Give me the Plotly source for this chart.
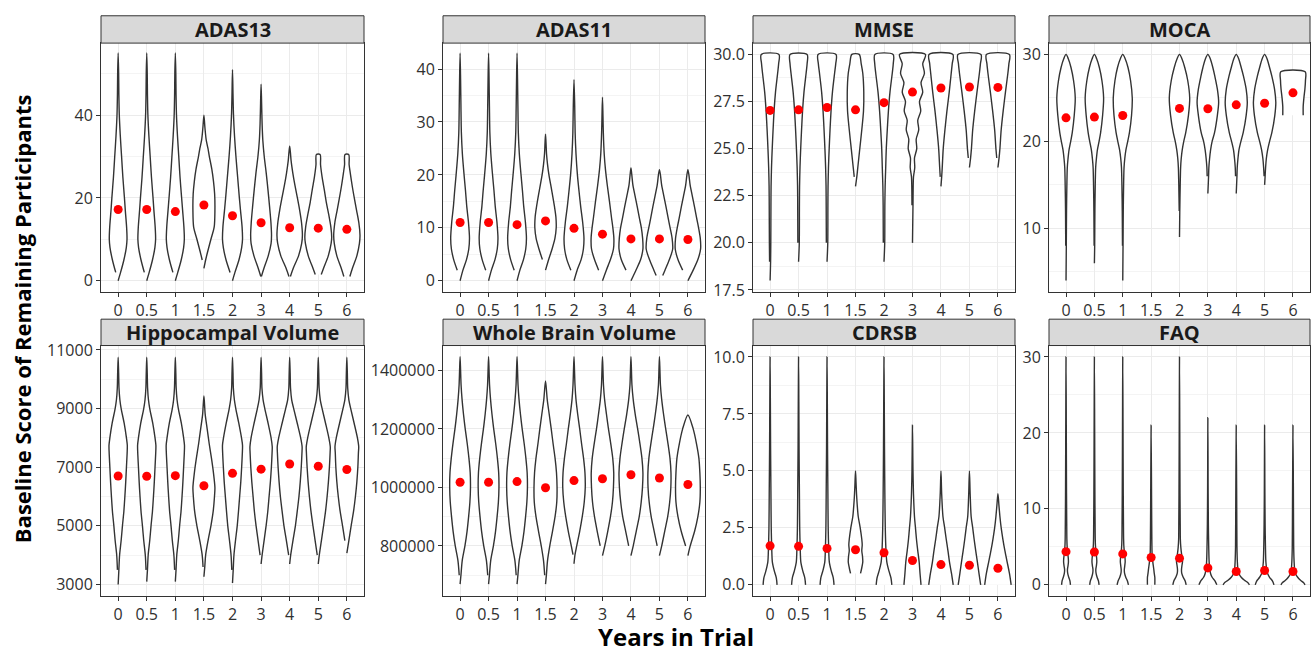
import plotly.graph_objects as go

# Trial years (x categories shared by every panel)
YEARS = ["0", "0.5", "1", "1.5", "2", "3", "4", "5", "6"]

# Each violin: score levels (bottom -> top) and the full violin width at
# each level, expressed as a fraction of one category slot.
ADAS13_MEAN = [17.2, 17.2, 16.7, 18.3, 15.7, 14.0, 12.8, 12.7, 12.4]
ADAS13_LEVELS = [
    [0, 2, 5, 8, 10, 13, 17, 20, 25, 30, 35, 40, 45, 50, 55],
    [0, 2, 5, 8, 10, 13, 17, 20, 25, 30, 35, 40, 45, 50, 55],
    [0, 2, 5, 8, 10, 13, 17, 20, 25, 30, 35, 40, 45, 50, 55],
    [3, 5, 7, 10, 13, 17, 21, 24, 27, 30, 32, 34, 37, 40],
    [0, 2, 5, 8, 10, 13, 17, 20, 25, 30, 35, 40, 45, 51],
    [1, 3, 6, 9, 11, 14, 18, 22, 26, 30, 34, 38, 43, 47.5],
    [1, 3, 6, 9, 11, 14, 17, 20, 23, 26, 29, 31, 32.5],
    [1.5, 3, 6, 9, 10.5, 13, 16, 19, 22, 25, 28, 30.5],
    [1, 3, 6, 9, 11, 14, 17, 20, 23, 26, 28, 30.5],
]
ADAS13_WIDTHS = [
    [0, .17, .40, .57, .62, .59, .50, .44, .33, .24, .15, .08, .05, .035, 0],
    [0, .17, .40, .57, .62, .59, .50, .44, .33, .24, .15, .08, .05, .035, 0],
    [0, .17, .41, .58, .63, .60, .51, .44, .33, .24, .15, .08, .05, .035, 0],
    [0, .12, .26, .49, .72, .77, .75, .67, .55, .38, .28, .16, .07, 0],
    [0, .17, .45, .64, .70, .67, .56, .48, .36, .24, .14, .07, .035, 0],
    [.02, .20, .50, .70, .73, .69, .59, .48, .36, .22, .12, .07, .035, 0],
    [.05, .25, .62, .84, .89, .83, .70, .54, .37, .22, .10, .05, 0],
    [.21, .37, .70, .90, .94, .88, .73, .56, .42, .27, .16, .13],
    [.21, .39, .70, .88, .92, .84, .68, .52, .37, .24, .16, .13],
]

ADAS11_MEAN = [11.0, 11.0, 10.6, 11.3, 9.9, 8.8, 7.9, 7.9, 7.8]
ADAS11_LEVELS = [
    [0, 2, 4, 6, 8, 11, 14, 17, 20, 24, 28, 33, 38, 43],
    [0, 2, 4, 6, 8, 11, 14, 17, 20, 24, 28, 33, 38, 43],
    [0, 2, 4, 6, 8, 11, 14, 17, 20, 24, 28, 33, 38, 43],
    [2, 4, 6, 8, 10, 12, 14, 17, 20, 22, 24, 26, 27.7],
    [0, 2, 4, 6, 8, 11, 14, 17, 20, 24, 28, 33, 38],
    [0, 2, 4, 6, 8, 10, 12, 15, 18, 21, 24, 28, 31, 34.7],
    [0, 2, 4, 6, 8, 10, 12, 14, 16, 18, 20, 21.3],
    [1, 2, 4, 6, 8, 10, 12, 14, 16, 18, 20, 21],
    [0, 2, 4, 6, 8, 10, 12, 14, 16, 18, 20, 21],
]
ADAS11_WIDTHS = [
    [0, .20, .45, .61, .66, .59, .47, .38, .28, .16, .09, .06, .035, 0],
    [0, .20, .45, .61, .66, .59, .47, .38, .28, .16, .09, .06, .035, 0],
    [0, .20, .45, .61, .66, .59, .47, .38, .28, .16, .09, .06, .035, 0],
    [0, .22, .46, .66, .75, .73, .63, .44, .24, .14, .07, .035, 0],
    [0, .22, .50, .66, .70, .61, .47, .35, .24, .14, .08, .05, 0],
    [0, .27, .56, .77, .80, .73, .63, .49, .34, .21, .12, .06, .035, 0],
    [0, .35, .68, .84, .82, .73, .58, .44, .29, .14, .06, 0],
    [.23, .39, .70, .93, .89, .75, .60, .46, .31, .16, .07, 0],
    [0, .37, .70, .89, .87, .75, .60, .46, .31, .16, .07, 0],
]

MMSE_MEAN = [27.03, 27.06, 27.18, 27.06, 27.44, 28.0, 28.22, 28.27, 28.25]
MMSE_LEVELS = [
    [18, 19, 20, 22, 23, 24, 25, 26, 27, 28, 29, 29.5, 30],
    [19, 20, 22, 23, 24, 25, 26, 27, 28, 29, 29.5, 30],
    [19, 20, 22, 23, 24, 25, 26, 27, 28, 29, 29.5, 30],
    [23, 23.5, 24, 25, 26, 27, 28, 29, 29.5, 30],
    [19, 20, 22, 23, 24, 25, 26, 27, 28, 29, 29.5, 30],
    [20, 22, 23, 23.5, 24, 24.5, 25, 25.5, 26, 26.5, 27, 27.5, 28, 28.5, 29, 29.5, 30],
    [23, 23.5, 24, 25, 26, 27, 28, 29, 29.5, 30],
    [24, 24.5, 25, 26, 27, 28, 29, 29.5, 30],
    [24, 24.5, 25, 26, 27, 28, 29, 29.5, 30],
]
MMSE_WIDTHS = [
    [0, .035, .05, .06, .07, .10, .15, .21, .28, .38, .53, .60, .62],
    [0, .05, .06, .07, .10, .15, .21, .28, .38, .53, .60, .60],
    [0, .05, .06, .07, .10, .15, .21, .28, .38, .53, .61, .63],
    [0, .09, .16, .30, .44, .56, .58, .51, .40, .26],
    [0, .05, .06, .08, .12, .16, .23, .31, .42, .58, .65, .64],
    [0, .035, .05, .07, .16, .14, .30, .26, .44, .37, .58, .49, .72, .60, .84, .72, .91],
    [0, .05, .09, .16, .28, .42, .58, .72, .79, .84],
    [0, .08, .14, .23, .37, .53, .70, .77, .81],
    [0, .08, .14, .23, .37, .53, .70, .77, .81],
]

MOCA_MEAN = [22.71, 22.79, 22.97, None, 23.79, 23.75, 24.2, 24.39, 25.58]
MOCA_LEVELS = [
    [4, 8, 12, 15, 17, 18, 19, 20, 21, 23, 25, 27, 28.5, 29.5, 30],
    [6, 8, 12, 15, 17, 18, 19, 20, 21, 23, 25, 27, 28.5, 29.5, 30],
    [4, 8, 12, 15, 17, 18, 19, 20, 21, 23, 25, 27, 28.5, 29.5, 30],
    [],
    [9, 12, 15, 17, 18, 19, 20, 21, 23, 25, 27, 28.5, 29.5, 30],
    [14, 16, 17, 18, 19, 20, 21, 23, 24.5, 26, 27.5, 28.5, 29.5, 30],
    [14, 16, 17, 18, 19, 20, 21, 23, 24.5, 26, 27.5, 28.5, 29.5, 30],
    [15, 16, 17, 18, 19, 20, 21, 23, 24.5, 26, 27.5, 28.5, 29.5, 30],
    [23, 24, 25, 26, 27, 28],
]
MOCA_WIDTHS = [
    [0, .02, .035, .06, .09, .14, .21, .33, .44, .58, .65, .53, .35, .16, 0],
    [0, .02, .035, .06, .09, .14, .21, .33, .44, .58, .65, .53, .35, .16, 0],
    [0, .02, .035, .06, .09, .14, .22, .35, .47, .62, .67, .55, .37, .17, 0],
    [],
    [0, .02, .05, .08, .12, .19, .30, .44, .63, .72, .58, .37, .17, 0],
    [0, .05, .07, .12, .19, .30, .47, .67, .76, .67, .49, .35, .17, 0],
    [0, .05, .07, .12, .19, .33, .49, .70, .78, .70, .51, .35, .17, 0],
    [0, .035, .07, .12, .21, .35, .51, .72, .79, .70, .51, .35, .17, 0],
    [.72, .72, .77, .84, .88, .86],
]

HIPPO_MEAN = [6702, 6691, 6713, 6370, 6790, 6934, 7110, 7033, 6923]
HIPPO_LEVELS = [
    [3000, 3500, 4000, 4500, 5000, 5500, 6000, 6500, 7000, 7500, 7750, 8000, 8500, 9000, 9300, 9700, 10200, 10750],
    [3100, 3500, 4000, 4500, 5000, 5500, 6000, 6500, 7000, 7500, 7750, 8000, 8500, 9000, 9300, 9700, 10200, 10750],
    [3100, 3500, 4000, 4500, 5000, 5500, 6000, 6500, 7000, 7500, 7750, 8000, 8500, 9000, 9300, 9700, 10200, 10750],
    [3265, 3600, 4000, 4500, 5000, 5500, 6000, 6300, 6800, 7300, 7800, 8300, 8800, 9430],
    [3050, 3500, 4000, 4500, 5000, 5500, 6000, 6500, 7000, 7500, 7750, 8000, 8500, 9000, 9300, 9700, 10200, 10750],
    [3700, 4000, 4500, 5000, 5500, 6000, 6500, 7000, 7500, 7700, 8000, 8500, 9000, 9300, 9700, 10200, 10750],
    [3700, 4000, 4500, 5000, 5500, 6000, 6500, 7000, 7500, 7700, 8000, 8500, 9000, 9300, 9700, 10200, 10750],
    [3700, 4000, 4500, 5000, 5500, 6000, 6500, 7000, 7500, 7700, 8000, 8500, 9000, 9300, 9700, 10200, 10750],
    [4070, 4500, 5000, 5500, 6000, 6500, 7000, 7500, 7700, 8000, 8500, 9000, 9300, 9700, 10200, 10750],
]
HIPPO_WIDTHS = [
    [0, .05, .10, .21, .30, .40, .47, .53, .58, .63, .64, .58, .42, .21, .12, .06, .035, 0],
    [0, .05, .10, .21, .30, .40, .47, .53, .58, .63, .64, .58, .42, .21, .12, .06, .035, 0],
    [0, .05, .10, .21, .30, .40, .47, .53, .58, .63, .64, .58, .42, .21, .12, .06, .035, 0],
    [0, .06, .12, .29, .49, .65, .74, .77, .67, .53, .37, .23, .09, 0],
    [0, .05, .10, .21, .33, .42, .50, .58, .64, .69, .70, .63, .44, .23, .13, .06, .035, 0],
    [0, .07, .21, .35, .47, .56, .65, .72, .77, .78, .70, .49, .26, .14, .06, .035, 0],
    [0, .07, .23, .40, .53, .65, .74, .81, .86, .87, .77, .53, .28, .14, .06, .035, 0],
    [0, .07, .22, .37, .51, .62, .71, .78, .83, .84, .74, .51, .27, .14, .06, .035, 0],
    [0, .14, .30, .47, .60, .70, .77, .81, .83, .74, .51, .27, .14, .06, .035, 0],
]

BRAIN_MEAN = [1017700, 1017700, 1019900, 998900, 1023200, 1029800, 1043100, 1032000, 1009900]
BRAIN_LEVELS = [
    [669600, 700000, 750000, 800000, 850000, 900000, 950000, 1000000, 1050000, 1100000, 1150000, 1200000, 1250000, 1300000, 1350000, 1400000, 1446400],
    [669600, 700000, 750000, 800000, 850000, 900000, 950000, 1000000, 1050000, 1100000, 1150000, 1200000, 1250000, 1300000, 1350000, 1400000, 1446400],
    [669600, 700000, 750000, 800000, 850000, 900000, 950000, 1000000, 1050000, 1100000, 1150000, 1200000, 1250000, 1300000, 1350000, 1400000, 1446400],
    [669600, 700000, 750000, 800000, 850000, 900000, 950000, 1000000, 1050000, 1100000, 1150000, 1200000, 1250000, 1300000, 1363500],
    [739200, 770000, 800000, 850000, 900000, 950000, 1000000, 1050000, 1100000, 1150000, 1200000, 1250000, 1300000, 1350000, 1400000, 1446400],
    [766900, 800000, 850000, 900000, 950000, 1000000, 1050000, 1100000, 1150000, 1200000, 1250000, 1300000, 1350000, 1400000, 1446400],
    [766900, 800000, 850000, 900000, 950000, 1000000, 1050000, 1100000, 1150000, 1200000, 1250000, 1300000, 1350000, 1400000, 1446400],
    [766900, 800000, 850000, 900000, 950000, 1000000, 1050000, 1100000, 1150000, 1200000, 1250000, 1300000, 1350000, 1400000, 1446400],
    [766900, 800000, 850000, 900000, 950000, 1000000, 1050000, 1100000, 1150000, 1200000, 1247500],
]
BRAIN_WIDTHS = [
    [0, .06, .15, .34, .49, .60, .69, .73, .71, .62, .50, .36, .24, .14, .07, .035, 0],
    [0, .06, .15, .34, .49, .60, .69, .73, .71, .62, .50, .36, .24, .14, .07, .035, 0],
    [0, .06, .15, .34, .49, .60, .69, .73, .71, .62, .50, .36, .24, .14, .07, .035, 0],
    [0, .06, .14, .30, .49, .67, .79, .81, .77, .67, .53, .40, .26, .12, 0],
    [0, .07, .19, .40, .58, .72, .79, .77, .67, .53, .40, .26, .14, .07, .035, 0],
    [0, .16, .37, .56, .70, .77, .79, .72, .58, .42, .28, .15, .07, .035, 0],
    [0, .16, .37, .58, .72, .81, .84, .77, .63, .47, .30, .16, .07, .035, 0],
    [0, .16, .37, .58, .72, .80, .81, .74, .60, .44, .29, .16, .07, .035, 0],
    [0, .16, .47, .70, .84, .87, .84, .77, .60, .37, 0],
]

CDRSB_MEAN = [1.71, 1.69, 1.60, 1.54, 1.41, 1.07, 0.89, 0.86, 0.73]
CDRSB_LEVELS = [
    [0, 0.3, 0.6, 1, 1.5, 2.5, 4, 6, 8, 10],
    [0, 0.3, 0.6, 1, 1.5, 2.5, 4, 6, 8, 10],
    [0, 0.3, 0.6, 1, 1.5, 2.5, 4, 6, 8, 10],
    [0.5, 0.75, 1, 1.25, 1.5, 1.75, 2, 2.5, 3, 3.5, 4, 4.5, 5],
    [0, 0.3, 0.6, 1, 1.5, 2.5, 4, 6, 8, 10],
    [0, 0.5, 1, 1.5, 2, 2.5, 3, 4, 5, 7],
    [0, 0.5, 1, 1.5, 2, 2.5, 3, 4, 5],
    [0, 0.5, 1, 1.5, 2, 2.5, 3, 4, 5],
    [0, 0.5, 1, 1.5, 2, 2.5, 3, 3.5, 4],
]
CDRSB_WIDTHS = [
    [.49, .44, .30, .16, .12, .08, .06, .035, .02, 0],
    [.49, .44, .30, .16, .12, .08, .06, .035, .02, 0],
    [.49, .44, .30, .16, .12, .08, .06, .035, .02, 0],
    [.35, .44, .51, .49, .44, .47, .44, .33, .19, .12, .07, .035, 0],
    [.55, .49, .35, .20, .14, .09, .06, .035, .02, 0],
    [.60, .53, .47, .37, .28, .21, .14, .07, .035, 0],
    [.86, .74, .60, .49, .37, .26, .14, .05, 0],
    [.79, .67, .56, .44, .33, .23, .12, .05, 0],
    [.93, .81, .65, .49, .35, .23, .14, .07, 0],
]

FAQ_MEAN = [4.37, 4.33, 4.07, 3.60, 3.51, 2.23, 1.76, 1.89, 1.76]
FAQ_LEVELS = [
    [0, 0.5, 1, 1.5, 2, 2.5, 3, 3.5, 4, 5, 6, 8, 12, 20, 30],
    [0, 0.5, 1, 1.5, 2, 2.5, 3, 3.5, 4, 5, 6, 8, 12, 20, 30],
    [0, 0.5, 1, 1.5, 2, 2.5, 3, 3.5, 4, 5, 6, 8, 12, 20, 30],
    [0, 1, 1.5, 2, 3, 4, 6, 10, 21],
    [0, 0.5, 1, 1.5, 2, 2.5, 3, 3.5, 4, 5, 6, 8, 12, 20, 30],
    [0, 0.5, 1, 1.5, 2, 3, 5, 8, 12, 22],
    [0, 0.3, 0.6, 1, 1.5, 2, 3, 5, 10, 21],
    [0, 0.5, 1, 1.5, 2, 3, 5, 8, 12, 21],
    [0, 0.3, 0.6, 1, 1.5, 2, 3, 5, 10, 21],
]
FAQ_WIDTHS = [
    [.31, .28, .19, .12, .10, .14, .17, .16, .13, .08, .06, .05, .035, .02, 0],
    [.33, .29, .19, .12, .10, .14, .17, .16, .13, .08, .06, .05, .035, .02, 0],
    [.40, .33, .21, .13, .11, .14, .17, .16, .13, .08, .06, .05, .035, .02, 0],
    [.26, .26, .22, .19, .12, .07, .05, .035, 0],
    [.47, .40, .26, .16, .14, .17, .21, .20, .15, .09, .06, .05, .035, .02, 0],
    [.63, .51, .30, .19, .14, .09, .06, .035, .02, 0],
    [.93, .81, .58, .35, .19, .12, .08, .05, .035, 0],
    [.66, .56, .35, .21, .15, .09, .06, .035, .02, 0],
    [.85, .74, .53, .33, .17, .12, .08, .05, .035, 0],
]

PANELS = [
    dict(title="ADAS13", mean=ADAS13_MEAN, levels=ADAS13_LEVELS, widths=ADAS13_WIDTHS,
         yrange=[-2.7, 57.4], tick0=0, dtick=20, fmt=None),
    dict(title="ADAS11", mean=ADAS11_MEAN, levels=ADAS11_LEVELS, widths=ADAS11_WIDTHS,
         yrange=[-2.1, 44.9], tick0=0, dtick=10, fmt=None),
    dict(title="MMSE", mean=MMSE_MEAN, levels=MMSE_LEVELS, widths=MMSE_WIDTHS,
         yrange=[17.4, 30.6], tick0=17.5, dtick=2.5, fmt=".1f"),
    dict(title="MOCA", mean=MOCA_MEAN, levels=MOCA_LEVELS, widths=MOCA_WIDTHS,
         yrange=[2.7, 31.3], tick0=0, dtick=10, fmt=None),
    dict(title="Hippocampal Volume", mean=HIPPO_MEAN, levels=HIPPO_LEVELS, widths=HIPPO_WIDTHS,
         yrange=[2600, 11150], tick0=3000, dtick=2000, fmt="d"),
    dict(title="Whole Brain Volume", mean=BRAIN_MEAN, levels=BRAIN_LEVELS, widths=BRAIN_WIDTHS,
         yrange=[628000, 1485000], tick0=0, dtick=200000, fmt="d"),
    dict(title="CDRSB", mean=CDRSB_MEAN, levels=CDRSB_LEVELS, widths=CDRSB_WIDTHS,
         yrange=[-0.5, 10.5], tick0=0, dtick=2.5, fmt=".1f"),
    dict(title="FAQ", mean=FAQ_MEAN, levels=FAQ_LEVELS, widths=FAQ_WIDTHS,
         yrange=[-1.5, 31.5], tick0=0, dtick=10, fmt=None),
]

# Page geometry (pixels)
W, H = 1315, 655
COLS = [(101, 364), (443, 705), (753, 1015), (1049, 1310)]
ROWS = [(37, 292), (347, 604)]
STRIPS = [(9, 37), (320, 347)]

FONT = "Open Sans"
OUTLINE = "#333333"
GRID = "#EBEBEB"
GRID_MINOR = "#F4F4F4"

fig = go.Figure()
layout = {}
shapes = []
annotations = []

for k, p in enumerate(PANELS):
    row, col = divmod(k, 4)
    xa = "x" if k == 0 else f"x{k + 1}"
    ya = "y" if k == 0 else f"y{k + 1}"

    for i, (lev, wid) in enumerate(zip(p["levels"], p["widths"])):
        if not lev:
            continue
        right_x = [i + w / 2 for w in wid]
        right_y = list(lev)
        left_x = [i - w / 2 for w in reversed(wid)]
        left_y = list(reversed(lev))
        # avoid doubled points where the outline closes to a tip
        if wid[-1] == 0:
            left_x, left_y = left_x[1:], left_y[1:]
        if wid[0] == 0:
            left_x, left_y = left_x[:-1], left_y[:-1]
        fig.add_trace(go.Scatter(
            x=right_x + left_x, y=right_y + left_y,
            mode="lines", fill="toself", fillcolor="white",
            line=dict(color=OUTLINE, width=1.4, shape="spline", smoothing=0.8),
            hoverinfo="skip", showlegend=False, xaxis=xa, yaxis=ya,
        ))

    mx = [i for i, m in enumerate(p["mean"]) if m is not None]
    my = [m for m in p["mean"] if m is not None]
    fig.add_trace(go.Scatter(
        x=mx, y=my, mode="markers",
        marker=dict(color="#FF0000", size=9, line=dict(width=0)),
        showlegend=False, xaxis=xa, yaxis=ya,
        hovertemplate=p["title"] + " %{y}<extra></extra>",
    ))

    l, r = COLS[col]
    t, b = ROWS[row]
    xkey = "xaxis" if k == 0 else f"xaxis{k + 1}"
    ykey = "yaxis" if k == 0 else f"yaxis{k + 1}"
    layout[xkey] = dict(
        domain=[l / W, r / W], anchor=ya, range=[-0.6, 8.6],
        tickmode="array", tickvals=list(range(len(YEARS))), ticktext=YEARS,
        showgrid=True, gridcolor=GRID, gridwidth=1, zeroline=False,
        showline=True, mirror=True, linecolor=OUTLINE, linewidth=1,
        ticks="outside", ticklen=4, tickcolor=OUTLINE,
        tickfont=dict(family=FONT, size=16, color="#303030"),
    )
    yax = dict(
        domain=[1 - b / H, 1 - t / H], anchor=xa, range=p["yrange"],
        tick0=p["tick0"], dtick=p["dtick"],
        showgrid=True, gridcolor=GRID, gridwidth=1, zeroline=False,
        showline=True, mirror=True, linecolor=OUTLINE, linewidth=1,
        ticks="outside", ticklen=4, tickcolor=OUTLINE,
        tickfont=dict(family=FONT, size=16, color="#303030"),
        minor=dict(dtick=p["dtick"] / 2, tick0=p["tick0"], showgrid=True,
                   gridcolor=GRID_MINOR, gridwidth=0.6, ticks=""),
    )
    if p["fmt"]:
        yax["tickformat"] = p["fmt"]
    layout[ykey] = yax

    st, sb = STRIPS[row]
    shapes.append(dict(
        type="rect", xref="paper", yref="paper",
        x0=l / W, x1=r / W, y0=1 - sb / H, y1=1 - st / H,
        fillcolor="#D9D9D9", line=dict(color=OUTLINE, width=1), layer="above",
    ))
    annotations.append(dict(
        text=f"<b>{p['title']}</b>", xref="paper", yref="paper",
        x=(l + r) / 2 / W, y=1 - (st + sb) / 2 / H,
        xanchor="center", yanchor="middle", showarrow=False,
        font=dict(family=FONT, size=20, color="#1A1A1A"),
    ))

annotations.append(dict(
    text="<b>Baseline Score of Remaining Participants</b>", xref="paper", yref="paper",
    x=22 / W, y=1 - 320 / H, xanchor="center", yanchor="middle", textangle=-90,
    showarrow=False, font=dict(family=FONT, size=22, color="#000000"),
))
annotations.append(dict(
    text="<b>Years in Trial</b>", xref="paper", yref="paper",
    x=676 / W, y=1 - 645 / H, xanchor="center", yanchor="middle",
    showarrow=False, font=dict(family=FONT, size=24, color="#000000"),
))

fig.update_layout(
    width=W, height=H, margin=dict(l=0, r=0, t=0, b=0),
    paper_bgcolor="white", plot_bgcolor="white",
    shapes=shapes, annotations=annotations, showlegend=False,
    **layout,
)

fig.write_html("out.html")
